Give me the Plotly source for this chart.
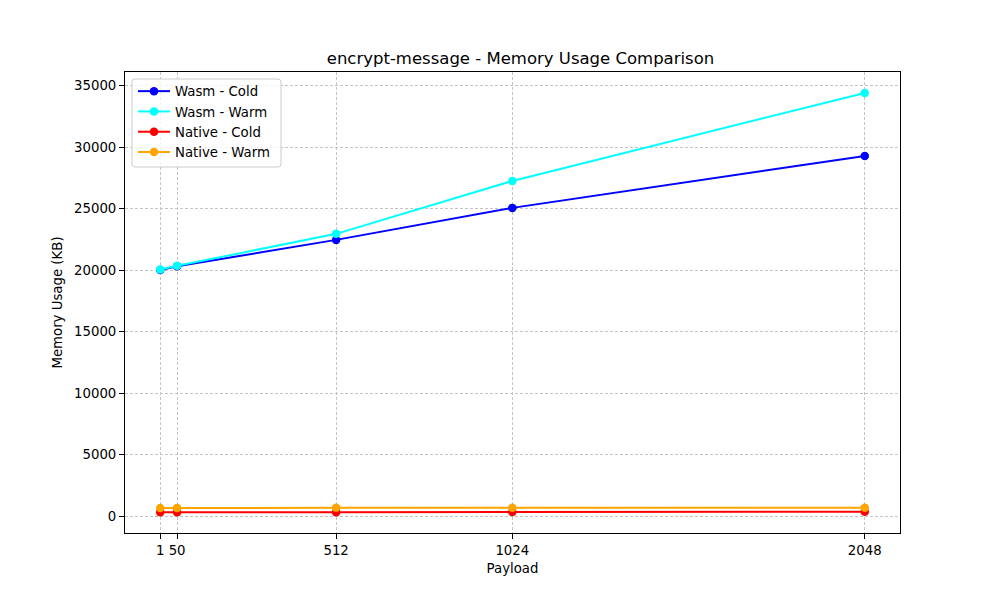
import plotly.graph_objects as go

payloads = [1, 50, 512, 1024, 2048]
wasm_cold = [20020, 20310, 22460, 25060, 29280]
wasm_warm = [20050, 20350, 22950, 27250, 34400]
native_cold = [330, 335, 340, 350, 370]
native_warm = [680, 685, 690, 695, 700]

series = [
    ("Wasm - Cold", wasm_cold, "#0000ff"),
    ("Wasm - Warm", wasm_warm, "#00ffff"),
    ("Native - Cold", native_cold, "#ff0000"),
    ("Native - Warm", native_warm, "#ffa500"),
]

fig = go.Figure()
for name, vals, color in series:
    fig.add_trace(go.Scatter(
        x=payloads, y=vals, name=name, mode="lines+markers",
        line=dict(color=color, width=2),
        marker=dict(color=color, size=8.5),
    ))

font = "DejaVu Sans, sans-serif"
FS = 13.3
axis_common = dict(
    showline=True, linecolor="black", linewidth=1, mirror=True,
    ticks="outside", ticklen=5, tickcolor="black",
    showgrid=True, gridcolor="#c4c4c4", gridwidth=0.6, griddash="3px,2px",
    zeroline=False, tickfont=dict(size=FS, color="black", family=font),
    automargin=False,
)

# plot area in window pixels (page body has 8px margin, compensated in margins)
PL, PR, PT, PB = 125, 900, 72, 533
W, H = PR - PL, PB - PT


def px_x(v):
    return (v - PL) / W


def px_y(v):
    return (PB - v) / H


# rounded legend frame (matplotlib style)
x0, x1, y0, y1, r = 132, 281, 79, 167, 3
path = (
    f"M {px_x(x0 + r)},{px_y(y0)} L {px_x(x1 - r)},{px_y(y0)} "
    f"Q {px_x(x1)},{px_y(y0)} {px_x(x1)},{px_y(y0 + r)} "
    f"L {px_x(x1)},{px_y(y1 - r)} Q {px_x(x1)},{px_y(y1)} {px_x(x1 - r)},{px_y(y1)} "
    f"L {px_x(x0 + r)},{px_y(y1)} Q {px_x(x0)},{px_y(y1)} {px_x(x0)},{px_y(y1 - r)} "
    f"L {px_x(x0)},{px_y(y0 + r)} Q {px_x(x0)},{px_y(y0)} {px_x(x0 + r)},{px_y(y0)} Z"
)

fig.update_layout(
    width=1000, height=600,
    margin=dict(l=117, r=108, t=64, b=75),
    paper_bgcolor="white", plot_bgcolor="white",
    font=dict(family=font, color="black"),
    title=dict(text="encrypt-message - Memory Usage Comparison",
               x=0.5125, xanchor="center", y=0.917, yanchor="middle",
               font=dict(size=16.5, color="black", family=font)),
    xaxis=dict(range=[-101.35, 2150.35], tickvals=payloads,
               ticktext=[str(p) for p in payloads],
               title=dict(text="Payload", font=dict(size=FS), standoff=6),
               **axis_common),
    yaxis=dict(range=[-1355, 36100], tickvals=list(range(0, 35001, 5000)),
               tickformat="d",
               title=dict(text="Memory Usage (KB)", font=dict(size=FS), standoff=8),
               **axis_common),
    shapes=[dict(type="path", xref="paper", yref="paper", path=path,
                 fillcolor="rgba(255,255,255,0.8)", line=dict(color="#cccccc", width=1),
                 layer="above")],
    legend=dict(x=px_x(133), y=px_y(76), xanchor="left", yanchor="top",
                bgcolor="rgba(0,0,0,0)", borderwidth=0,
                font=dict(size=FS, color="black", family=font),
                itemwidth=32, tracegroupgap=0),
    showlegend=True,
)

fig.write_html("out.html")
